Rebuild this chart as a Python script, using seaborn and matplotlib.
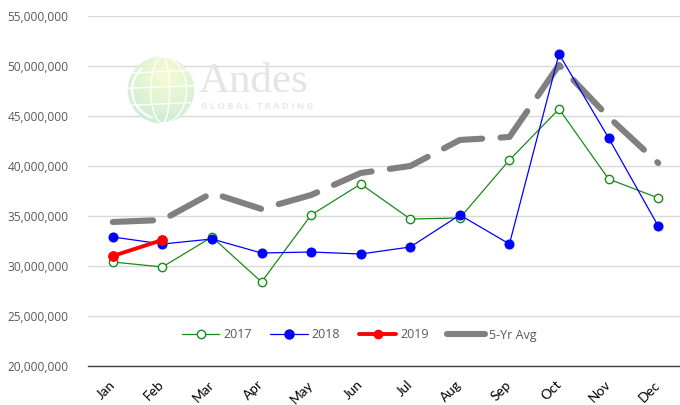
import numpy as np
import pandas as pd
import matplotlib
matplotlib.use("Agg")
import matplotlib.pyplot as plt
import seaborn as sns
from matplotlib.patches import Circle
from matplotlib.lines import Line2D
from matplotlib.ticker import FuncFormatter, FixedLocator

# Monthly volumes (millions)
months = ["Jan", "Feb", "Mar", "Apr", "May", "Jun", "Jul", "Aug", "Sep", "Oct", "Nov", "Dec"]
v2017 = [30.4, 29.9, 32.9, 28.4, 35.1, 38.2, 34.7, 34.8, 40.6, 45.7, 38.7, 36.8]
v2018 = [32.9, 32.2, 32.7, 31.3, 31.4, 31.2, 31.9, 35.1, 32.2, 51.2, 42.8, 34.0]
v2019 = [31.0, 32.6]
avg5 = [34.4, 34.6, 37.3, 35.7, 37.1, 39.3, 40.0, 42.6, 42.9, 50.1, 44.9, 40.3]
yticks = [20, 25, 30, 35, 40, 45, 50, 55]

sns.set_theme(style="white")
plt.rcParams["font.family"] = ["Open Sans", "DejaVu Sans"]

fig = plt.figure(figsize=(6.8, 4.05), dpi=100)
ax = fig.add_axes([88 / 680, 39 / 405, 592 / 680, 350 / 405])

pos = np.arange(len(months))
df = pd.DataFrame({"pos": pos, "2017": np.array(v2017) * 1e6,
                   "2018": np.array(v2018) * 1e6,
                   "avg": np.array(avg5) * 1e6})
df19 = pd.DataFrame({"pos": pos[:len(v2019)], "2019": np.array(v2019) * 1e6})

GRAY = "#808080"
TXT = "#595959"

# 5-year average: thick long-dashed gray line
sns.lineplot(data=df, x="pos", y="avg", ax=ax, color=GRAY, linewidth=4.4,
             zorder=3, legend=False)
avg_line = ax.lines[-1]
avg_line.set_dashes((6.6, 3.0))
avg_line.set_dash_capstyle("round")
avg_line.set_solid_capstyle("round")

sns.lineplot(data=df, x="pos", y="2017", ax=ax, color="#1a8a1a", linewidth=0.9,
             marker="o", markersize=6, markerfacecolor="white",
             markeredgecolor="#1a8a1a", markeredgewidth=1.0, zorder=4, legend=False)
sns.lineplot(data=df, x="pos", y="2018", ax=ax, color="#0000ff", linewidth=0.9,
             marker="o", markersize=6.5, markerfacecolor="#0000ff",
             markeredgecolor="#0000ff", zorder=5, legend=False)
sns.lineplot(data=df19, x="pos", y="2019", ax=ax, color="#ff0000", linewidth=2.8,
             marker="o", markersize=7, markerfacecolor="#ff0000",
             markeredgecolor="#ff0000", zorder=6, legend=False)

# Axes limits and grid
ax.set_ylim(yticks[0] * 1e6, yticks[-1] * 1e6)
ax.set_xlim(-0.5, 11.44)
ax.yaxis.set_major_locator(FixedLocator([t * 1e6 for t in yticks]))
ax.yaxis.set_major_formatter(FuncFormatter(lambda v, p: f"{v:,.0f}"))
ax.grid(axis="y", color="#d9d9d9", linewidth=1.0)
ax.grid(axis="x", visible=False)
ax.set_axisbelow(True)
for s in ["left", "right", "top"]:
    ax.spines[s].set_visible(False)
ax.spines["bottom"].set_color("#404040")
ax.spines["bottom"].set_linewidth(1.0)
ax.spines["bottom"].set_zorder(7)
ax.tick_params(axis="y", length=0, pad=14, labelsize=8.6, labelcolor=TXT)
ax.set_xlabel("")
ax.set_ylabel("")

# Month labels on category centres, tick marks every three months
ax.set_xticks(pos)
ax.set_xticklabels(months, rotation=45, ha="right", va="center",
                   rotation_mode="anchor", fontsize=9.8, color="black",
                   family=["Lato", "DejaVu Sans"])
ax.tick_params(axis="x", which="major", length=0, pad=12)
ax.set_xticks([-0.5, 2.5, 5.5, 8.5], minor=True)
ax.tick_params(axis="x", which="minor", length=4, width=1.0, color="#404040",
               direction="out")

# Legend
handles = [
    Line2D([], [], color="#1a8a1a", lw=0.9, marker="o", ms=6,
           mfc="white", mec="#1a8a1a", mew=1.0),
    Line2D([], [], color="#0000ff", lw=0.9, marker="o", ms=6.5,
           mfc="#0000ff", mec="#0000ff"),
    Line2D([], [], color="#ff0000", lw=2.8, marker="o", ms=6,
           mfc="#ff0000", mec="#ff0000"),
    Line2D([], [], color=GRAY, lw=4.4, solid_capstyle="round"),
]
leg = ax.legend(handles, ["2017", "2018", "2019", "5-Yr Avg"], ncol=4,
                loc="center", bbox_to_anchor=(359 / 680, 70 / 405),
                bbox_transform=fig.transFigure, frameon=False, fontsize=9,
                handlelength=3.0, columnspacing=1.5, handletextpad=0.3,
                labelcolor=TXT)
leg.set_zorder(8)

# Watermark: globe emblem and company name
gax = fig.add_axes([127 / 680, 1 - 124 / 405, 68 / 680, 68 / 405], zorder=1)
gax.set_xlim(-1, 1)
gax.set_ylim(-1, 1)
gax.axis("off")
gx, gy = np.meshgrid(np.linspace(-1, 1, 200), np.linspace(-1, 1, 200))
r = np.sqrt((gx - 0.15) ** 2 + (gy - 0.45) ** 2)
t = np.clip(r / 1.5, 0, 1)
c0 = np.array([0.97, 0.99, 0.80])
c1 = np.array([0.78, 0.92, 0.83])
img = c0[None, None, :] * (1 - t[..., None]) + c1[None, None, :] * t[..., None]
im = gax.imshow(img, extent=(-1, 1, -1, 1), origin="lower", alpha=0.9)
clip = Circle((0, 0), 0.98, transform=gax.transData)
im.set_clip_path(clip)
th = np.linspace(-np.pi / 2, np.pi / 2, 100)
for k in [-0.35, 0.2, 0.7]:
    gax.plot(k * np.cos(th) + 0.05, np.sin(th) * 0.97, color="white", lw=1.0)
for yy in [-0.45, 0.05, 0.5]:
    w = np.sqrt(max(0.96 - yy ** 2, 0))
    gax.plot([-w, w], [yy, yy + 0.08], color="white", lw=1.0)
arc = np.linspace(2.3, 4.4, 60)
gax.plot(0.85 * np.cos(arc), 0.85 * np.sin(arc), color="white", lw=1.6)

fig.text(199 / 680, 1 - 92 / 405, "Andes", fontsize=31, color="#e4e4e4",
         family=["Liberation Serif", "DejaVu Serif"], va="baseline", ha="left",
         zorder=1)
fig.text(201 / 680, 1 - 102 / 405, "G L O B A L   T R A D I N G", fontsize=6.7,
         color="#e8e8e8", fontweight="bold", va="top", ha="left", zorder=1)

fig.savefig("out.png", dpi=100)
